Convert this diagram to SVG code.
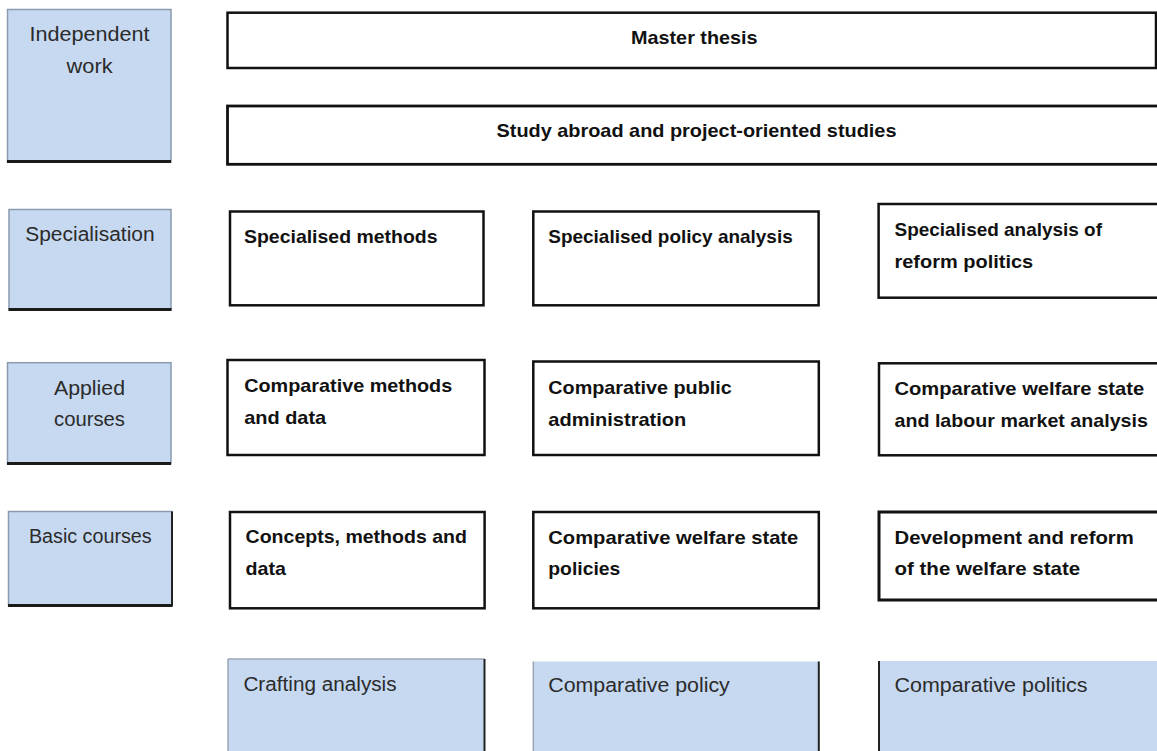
<svg xmlns="http://www.w3.org/2000/svg" width="1157" height="751" viewBox="0 0 1157 751">
<style>
.bg{fill:#ffffff}
.lab{fill:#c6d9f1;stroke:#8a9bb0;stroke-width:1.5}
.labb{stroke:#1a1a1a;stroke-width:3}
.box{fill:#ffffff;stroke:#111111;stroke-width:2.5}
.blue{fill:#c6d9f1;stroke:none}
.edge{stroke:#222222;stroke-width:2}
.edgel{stroke:#9aa6b4;stroke-width:1.5}
.r{font-family:"Liberation Sans",Arial,sans-serif;font-size:20px;fill:#2b2b2b}
.b{font-family:"Liberation Sans",Arial,sans-serif;font-size:19px;font-weight:bold;fill:#111111}
</style>
<rect class="bg" x="0" y="0" width="1157" height="751"/>

<g id="row-labels">
<g id="independent-work">
<rect class="lab" x="7.5" y="9.5" width="163.5" height="152.5"/>
<line class="labb" x1="7" y1="161.5" x2="171" y2="161.5"/>
<text class="r" x="29.6" y="40.7" textLength="120" lengthAdjust="spacingAndGlyphs">Independent</text>
<text class="r" x="66.6" y="72.7" textLength="46" lengthAdjust="spacingAndGlyphs">work</text>
</g>
<g id="specialisation">
<rect class="lab" x="9" y="209.5" width="162" height="100"/>
<line class="labb" x1="8.5" y1="309.5" x2="171.5" y2="309.5"/>
<text class="r" x="25.2" y="240.7" textLength="129.5" lengthAdjust="spacingAndGlyphs">Specialisation</text>
</g>
<g id="applied-courses">
<rect class="lab" x="7.5" y="362.7" width="163.5" height="101"/>
<line class="labb" x1="7" y1="463.5" x2="171" y2="463.5"/>
<text class="r" x="54" y="395" textLength="71" lengthAdjust="spacingAndGlyphs">Applied</text>
<text class="r" x="54" y="426" textLength="71" lengthAdjust="spacingAndGlyphs">courses</text>
</g>
<g id="basic-courses">
<rect class="lab" x="8.5" y="511.5" width="163.5" height="94"/>
<line class="labb" x1="8" y1="605.5" x2="172.5" y2="605.5"/>
<line class="edge" x1="172" y1="511.5" x2="172" y2="606"/>
<text class="r" x="28.9" y="542.7" textLength="122.8" lengthAdjust="spacingAndGlyphs">Basic courses</text>
</g>
</g>

<g id="master-thesis">
<rect class="box" x="227.5" y="12.7" width="928.5" height="55.3"/>
<text class="b" x="631" y="44" textLength="126.6" lengthAdjust="spacingAndGlyphs">Master thesis</text>
</g>
<g id="study-abroad">
<rect class="box" x="227.5" y="106" width="935" height="58.3" style="stroke-width:2.8"/>
<text class="b" x="496.5" y="136.5" textLength="400" lengthAdjust="spacingAndGlyphs">Study abroad and project-oriented studies</text>
</g>

<g id="specialised-methods">
<rect class="box" x="230" y="211.5" width="253.5" height="93.8"/>
<text class="b" x="244" y="243.3" textLength="193.5" lengthAdjust="spacingAndGlyphs">Specialised methods</text>
</g>
<g id="specialised-policy-analysis">
<rect class="box" x="533.3" y="211.5" width="285.3" height="93.8"/>
<text class="b" x="548.3" y="243.3" textLength="244.4" lengthAdjust="spacingAndGlyphs">Specialised policy analysis</text>
</g>
<g id="specialised-reform-politics">
<rect class="box" x="878.6" y="204" width="285" height="93.7"/>
<text class="b" x="894.5" y="235.7" textLength="207.5" lengthAdjust="spacingAndGlyphs">Specialised analysis of</text>
<text class="b" x="894.5" y="268.3" textLength="138.7" lengthAdjust="spacingAndGlyphs">reform politics</text>
</g>

<g id="comparative-methods-data">
<rect class="box" x="227.5" y="360" width="257" height="95"/>
<text class="b" x="244.2" y="391.5" textLength="208" lengthAdjust="spacingAndGlyphs">Comparative methods</text>
<text class="b" x="244.2" y="424" textLength="82" lengthAdjust="spacingAndGlyphs">and data</text>
</g>
<g id="comparative-public-administration">
<rect class="box" x="533.3" y="361.5" width="285.5" height="93.5"/>
<text class="b" x="548.3" y="394" textLength="183.4" lengthAdjust="spacingAndGlyphs">Comparative public</text>
<text class="b" x="548.3" y="426" textLength="138" lengthAdjust="spacingAndGlyphs">administration</text>
</g>
<g id="comparative-welfare-labour">
<rect class="box" x="879" y="363.3" width="285" height="92"/>
<text class="b" x="894.5" y="395" textLength="249.7" lengthAdjust="spacingAndGlyphs">Comparative welfare state</text>
<text class="b" x="894.5" y="426.7" textLength="253.4" lengthAdjust="spacingAndGlyphs">and labour market analysis</text>
</g>

<g id="concepts-methods-data">
<rect class="box" x="230" y="512" width="254.6" height="96.3"/>
<text class="b" x="245.6" y="543.3" textLength="221.3" lengthAdjust="spacingAndGlyphs">Concepts, methods and</text>
<text class="b" x="245.6" y="575" textLength="40.4" lengthAdjust="spacingAndGlyphs">data</text>
</g>
<g id="comparative-welfare-policies">
<rect class="box" x="533.3" y="512" width="285.5" height="96.3"/>
<text class="b" x="548.3" y="544" textLength="250" lengthAdjust="spacingAndGlyphs">Comparative welfare state</text>
<text class="b" x="548.3" y="575" textLength="72" lengthAdjust="spacingAndGlyphs">policies</text>
</g>
<g id="development-reform">
<rect class="box" x="879" y="512" width="285" height="88" style="stroke-width:3"/>
<text class="b" x="894.5" y="544" textLength="239.3" lengthAdjust="spacingAndGlyphs">Development and reform</text>
<text class="b" x="894.5" y="575" textLength="185.7" lengthAdjust="spacingAndGlyphs">of the welfare state</text>
</g>

<g id="crafting-analysis">
<rect class="blue" x="228" y="659" width="256.5" height="95"/>
<line class="edgel" x1="228" y1="659" x2="484.5" y2="659"/>
<line class="edgel" x1="228" y1="659" x2="228" y2="752"/>
<line class="edge" x1="484.5" y1="659" x2="484.5" y2="752"/>
<text class="r" x="243.4" y="691" textLength="153.2" lengthAdjust="spacingAndGlyphs">Crafting analysis</text>
</g>
<g id="comparative-policy">
<rect class="blue" x="533.3" y="661.5" width="285.5" height="92"/>
<line class="edgel" x1="533.3" y1="661.5" x2="533.3" y2="752"/>
<line class="edge" x1="818.8" y1="661.5" x2="818.8" y2="752"/>
<text class="r" x="548.3" y="691.7" textLength="181.5" lengthAdjust="spacingAndGlyphs">Comparative policy</text>
</g>
<g id="comparative-politics">
<rect class="blue" x="879" y="661" width="282" height="92"/>
<line class="edge" x1="879" y1="661" x2="879" y2="752"/>
<text class="r" x="894.5" y="691.7" textLength="193" lengthAdjust="spacingAndGlyphs">Comparative politics</text>
</g>

<g id="connectors"></g>
</svg>
